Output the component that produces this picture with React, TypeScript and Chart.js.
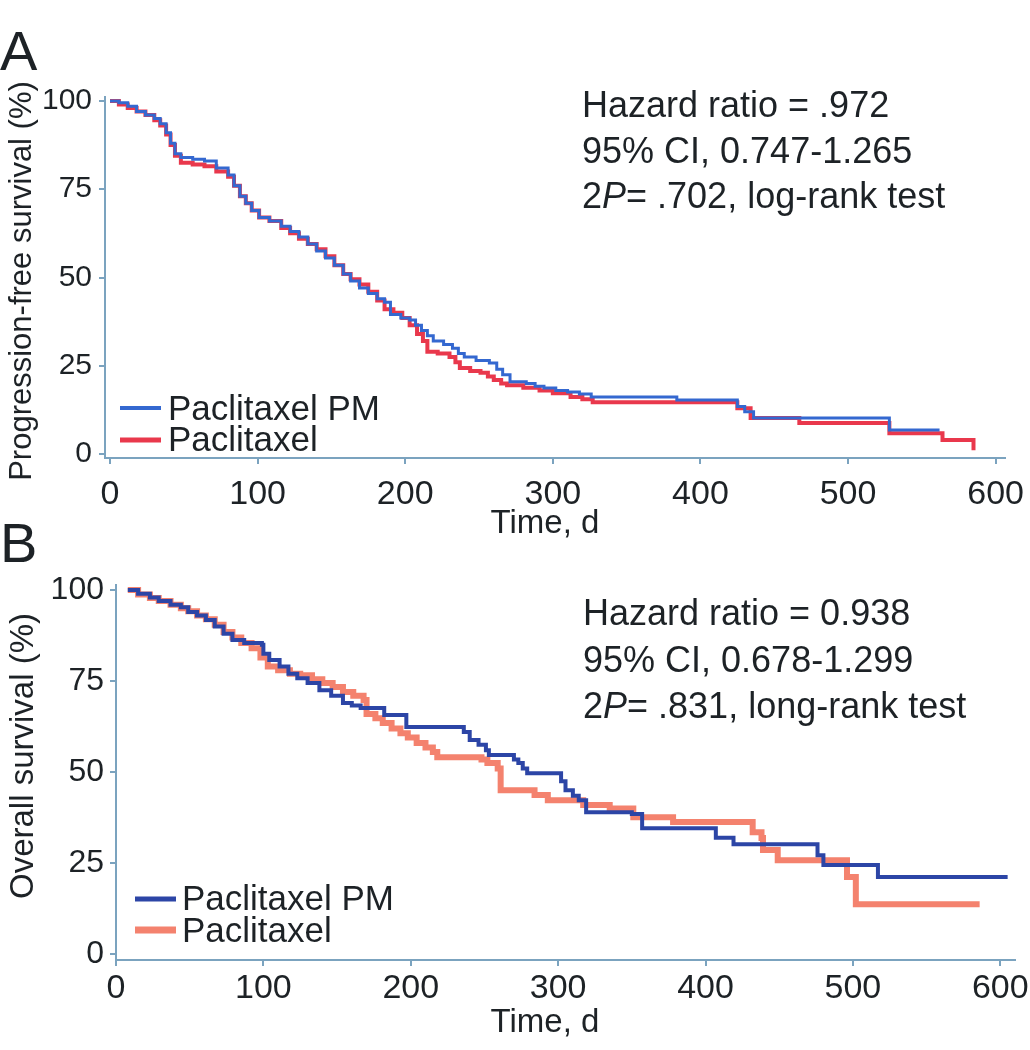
import React, { useEffect, useRef } from 'react';
import { Chart, registerables } from 'chart.js';

Chart.register(...registerables);

const FONT = "'Liberation Sans', Arial, Helvetica, sans-serif";
const TEXT = '#1d2226';
const AXIS = '#7ba3bf';

// ---------- tick values ----------
const xTickValues = [0, 100, 200, 300, 400, 500, 600];
const yTickValues = [0, 25, 50, 75, 100];

// ---------- series names ----------
const seriesNames = ['Paclitaxel PM', 'Paclitaxel'];

// ---------- Panel A: progression-free survival ----------
const pfsPmTime = [0, 6, 12, 18, 24, 30, 34, 38, 41, 44, 48, 56, 64, 72, 80, 84, 88, 92, 96, 101, 108, 116, 122, 128, 134, 140, 146, 152, 158, 163, 169, 175, 181, 186, 190, 197, 203, 207, 211, 215, 219, 226, 232, 236, 240, 248, 257, 262, 266, 271, 282, 288, 294, 302, 310, 318, 326, 384, 425, 430, 436, 528, 562];
const pfsPmSurv = [100, 99.5, 98.5, 97, 96, 95, 93.5, 91, 88, 85, 84, 83.5, 83, 81, 79, 76, 73, 71, 69, 67, 66, 64.5, 63, 61.5, 59.5, 57.5, 55.5, 53.5, 51, 49, 47, 45.5, 44, 43, 39.5, 38.5, 38, 36.5, 35, 33.5, 32, 31, 30, 28.5, 27.5, 26.5, 25.8, 24, 22.5, 20.5, 20, 19.2, 18.7, 18, 17.6, 17, 16.2, 15.3, 13.5, 12, 10.2, 6.8, 6.8];
const pfsPacTime = [0, 6, 12, 18, 24, 30, 34, 38, 41, 44, 48, 56, 64, 72, 80, 84, 88, 92, 96, 101, 108, 116, 122, 128, 134, 140, 146, 152, 158, 163, 169, 175, 181, 186, 192, 198, 203, 208, 212, 215, 222, 230, 234, 237, 244, 251, 256, 260, 265, 269, 280, 291, 300, 312, 320, 327, 425, 434, 467, 528, 564, 585];
const pfsPacSurv = [100, 99, 98, 97, 96, 94.5, 93, 90.5, 87.5, 84.5, 82.5, 82, 81.5, 80, 78.5, 76, 73, 71, 69, 67, 66, 64, 62.5, 61, 59.5, 58, 56, 53.5, 51, 49.5, 48, 46, 43.5, 41, 40, 38.5, 36.5, 34, 32, 29, 28.5, 27.5, 26, 24.4, 23.5, 23, 22, 21, 20, 19.5, 18.8, 18, 17.2, 16.2, 15.5, 14.7, 13, 10.2, 8.8, 5.9, 4, 1.1];
const pfsStatLines = ['Hazard ratio = .972', '95% CI, 0.747-1.265'];
const pfsTestLine = ['2', 'P', '= .702, log-rank test'];

// ---------- Panel B: overall survival ----------
const osPmTime = [8, 15, 23, 29, 37, 44, 49, 55, 61, 67, 73, 79, 87, 99, 100, 104, 111, 117, 123, 130, 138, 146, 154, 160, 166, 182, 197, 236, 240, 246, 251, 253, 270, 273, 276, 279, 302, 305, 310, 314, 319, 350, 357, 407, 419, 476, 480, 517, 605];
const osPmSurv = [100, 99, 98, 97, 96, 95.3, 94, 93, 91.8, 90, 88, 86.3, 85.5, 85, 82.5, 80.8, 79, 77, 75.8, 74.5, 72.5, 71, 69, 68.3, 67.6, 65.7, 62.4, 61, 58.8, 57.5, 56, 54.7, 53.5, 52.5, 51, 49.7, 47.5, 45, 43.5, 42.3, 39, 38.5, 34.6, 32, 30.2, 27.2, 24.5, 21.2, 21.2];
const osPacTime = [8, 15, 23, 29, 37, 44, 49, 55, 61, 67, 73, 79, 85, 92, 98, 103, 110, 118, 125, 133, 140, 147, 154, 161, 168, 170, 176, 181, 187, 193, 198, 204, 210, 215, 218, 248, 252, 259, 261, 284, 293, 317, 335, 351, 378, 432, 438, 439, 449, 496, 502, 586];
const osPacSurv = [100, 98.8, 97.8, 97, 96, 95, 94.2, 93, 92, 90.5, 88.5, 87, 85.5, 84, 81.5, 79, 78, 77, 76.6, 75.5, 74.5, 73.4, 72, 71, 69.8, 66, 64.8, 63.5, 62, 60.7, 59.5, 58, 56.8, 55.5, 54.1, 53.5, 52.5, 51, 45, 43.7, 42.3, 41, 40, 37.6, 36.3, 33.5, 31.9, 28.6, 25.8, 21.2, 13.7, 13.7];
const osStatLines = ['Hazard ratio = 0.938', '95% CI, 0.678-1.299'];
const osTestLine = ['2', 'P', '= .831, long-rank test'];

const toPoints = (t: number[], s: number[]) => t.map((v, i) => ({ x: v, y: s[i] }));

type PanelCfg = {
  canvasTop: number;
  canvasHeight: number;
  letter: string;
  letterBase: number;
  yTitle: string;
  yTitleX: number;
  yTitleY: number;
  yTitleSize: number;
  xTitleBase: number;
  xMin: number;
  xMax: number;
  yMin: number;
  yMax: number;
  area: { left: number; right: number; top: number; bottom: number };
  xTickPad: number;
  yTickSize: number;
  yTickPad: number;
  pm: { t: number[]; s: number[]; color: string; width: number };
  pac: { t: number[]; s: number[]; color: string; width: number };
  legend: { x1: number; x2: number; textX: number; y1: number; y2: number; b1: number; b2: number };
  stats: { x: number; bases: number[]; lines: string[]; test: string[] };
};

const panelA: PanelCfg = {
  canvasTop: 0,
  canvasHeight: 550,
  letter: 'A',
  letterBase: 70,
  yTitle: 'Progression-free survival (%)',
  yTitleX: 22,
  yTitleY: 281,
  yTitleSize: 31,
  xTitleBase: 533,
  xMin: -3.4,
  xMax: 606,
  yMin: -1.1,
  yMax: 101.1,
  area: { left: 105, right: 1004.5, top: 97, bottom: 458 },
  xTickPad: 10,
  yTickSize: 30,
  yTickPad: 7,
  pm: { t: pfsPmTime, s: pfsPmSurv, color: '#3468d0', width: 3 },
  pac: { t: pfsPacTime, s: pfsPacSurv, color: '#e9384c', width: 4 },
  legend: { x1: 120, x2: 161, textX: 168, y1: 408, y2: 440, b1: 420, b2: 451 },
  stats: { x: 582, bases: [117, 163, 208], lines: pfsStatLines, test: pfsTestLine },
};

const panelB: PanelCfg = {
  canvasTop: 500,
  canvasHeight: 550,
  letter: 'B',
  letterBase: 62,
  yTitle: 'Overall survival (%)',
  yTitleX: 24,
  yTitleY: 256,
  yTitleSize: 33,
  xTitleBase: 532,
  xMin: 0,
  xMax: 610,
  yMin: -1.6,
  yMax: 101.4,
  area: { left: 116, right: 1015, top: 85, bottom: 460 },
  xTickPad: 2,
  yTickSize: 32,
  yTickPad: 6,
  pm: { t: osPmTime, s: osPmSurv, color: '#2c45a6', width: 4 },
  pac: { t: osPacTime, s: osPacSurv, color: '#f4826e', width: 6 },
  legend: { x1: 135, x2: 176, textX: 182, y1: 399, y2: 430, b1: 410, b2: 442 },
  stats: { x: 583, bases: [125, 172, 218], lines: osStatLines, test: osTestLine },
};

function makeTextPlugin(cfg: PanelCfg) {
  return {
    id: 'panelText' + cfg.letter,
    afterDraw(chart: any) {
      const ctx = chart.ctx as CanvasRenderingContext2D;
      ctx.save();
      ctx.fillStyle = TEXT;
      ctx.textBaseline = 'alphabetic';
      // panel letter
      ctx.font = `56px ${FONT}`;
      ctx.textAlign = 'left';
      ctx.fillText(cfg.letter, 0, cfg.letterBase);
      // y title
      ctx.save();
      ctx.translate(cfg.yTitleX, cfg.yTitleY);
      ctx.rotate(-Math.PI / 2);
      ctx.font = `${cfg.yTitleSize}px ${FONT}`;
      ctx.textAlign = 'center';
      ctx.textBaseline = 'middle';
      ctx.fillText(cfg.yTitle, 0, 0);
      ctx.restore();
      // x title
      ctx.font = `33px ${FONT}`;
      ctx.textAlign = 'center';
      ctx.fillText('Time, d', 545, cfg.xTitleBase);
      // stats
      ctx.textAlign = 'left';
      ctx.font = `36px ${FONT}`;
      cfg.stats.lines.forEach((l, i) => ctx.fillText(l, cfg.stats.x, cfg.stats.bases[i]));
      let x = cfg.stats.x;
      const b = cfg.stats.bases[2];
      ctx.fillText(cfg.stats.test[0], x, b);
      x += ctx.measureText(cfg.stats.test[0]).width;
      ctx.font = `italic 36px ${FONT}`;
      ctx.fillText(cfg.stats.test[1], x, b);
      x += ctx.measureText(cfg.stats.test[1]).width;
      ctx.font = `36px ${FONT}`;
      ctx.fillText(cfg.stats.test[2], x, b);
      // legend
      const lg = cfg.legend;
      ctx.lineCap = 'butt';
      ctx.strokeStyle = cfg.pm.color;
      ctx.lineWidth = cfg.pm.width + 1;
      ctx.beginPath();
      ctx.moveTo(lg.x1, lg.y1);
      ctx.lineTo(lg.x2, lg.y1);
      ctx.stroke();
      ctx.strokeStyle = cfg.pac.color;
      ctx.lineWidth = cfg.pac.width + 1;
      ctx.beginPath();
      ctx.moveTo(lg.x1, lg.y2);
      ctx.lineTo(lg.x2, lg.y2);
      ctx.stroke();
      ctx.font = `35px ${FONT}`;
      ctx.fillText(seriesNames[0], lg.textX, lg.b1);
      ctx.fillText(seriesNames[1], lg.textX, lg.b2);
      ctx.restore();
    },
  };
}

function Panel({ cfg }: { cfg: PanelCfg }) {
  const ref = useRef<HTMLCanvasElement | null>(null);
  useEffect(() => {
    if (!ref.current) return;
    const a = cfg.area;
    const chart = new Chart(ref.current, {
      type: 'line',
      data: {
        datasets: [
          {
            label: seriesNames[0],
            data: toPoints(cfg.pm.t, cfg.pm.s),
            borderColor: cfg.pm.color,
            borderWidth: cfg.pm.width,
            stepped: 'before',
            pointRadius: 0,
            fill: false,
          },
          {
            label: seriesNames[1],
            data: toPoints(cfg.pac.t, cfg.pac.s),
            borderColor: cfg.pac.color,
            borderWidth: cfg.pac.width,
            stepped: 'before',
            pointRadius: 0,
            fill: false,
          },
        ],
      },
      options: {
        responsive: false,
        animation: false,
        devicePixelRatio: 1,
        layout: { padding: { top: a.top, right: 1030 - a.right, left: 0, bottom: 0 } },
        plugins: { legend: { display: false }, tooltip: { enabled: false }, title: { display: false } },
        scales: {
          x: {
            type: 'linear',
            min: cfg.xMin,
            max: cfg.xMax,
            afterBuildTicks: (s: any) => {
              s.ticks = xTickValues.map((v) => ({ value: v }));
            },
            afterFit: (s: any) => {
              s.height = cfg.canvasHeight - a.bottom;
              s.paddingLeft = 0;
              s.paddingRight = 0;
            },
            ticks: {
              autoSkip: false,
              maxRotation: 0,
              color: TEXT,
              padding: cfg.xTickPad,
              font: { family: FONT, size: 34 },
              callback: (v: any) => String(v),
            },
            grid: { display: true, drawOnChartArea: false, drawTicks: true, tickLength: 6, color: AXIS, lineWidth: 2 },
            border: { display: true, color: AXIS, width: 2 },
          },
          y: {
            type: 'linear',
            min: cfg.yMin,
            max: cfg.yMax,
            afterBuildTicks: (s: any) => {
              s.ticks = yTickValues.map((v) => ({ value: v }));
            },
            afterFit: (s: any) => {
              s.width = a.left;
              s.paddingTop = 0;
              s.paddingBottom = 0;
            },
            ticks: {
              autoSkip: false,
              color: TEXT,
              padding: cfg.yTickPad,
              font: { family: FONT, size: cfg.yTickSize },
              callback: (v: any) => String(v),
            },
            grid: { display: true, drawOnChartArea: false, drawTicks: true, tickLength: 6, color: AXIS, lineWidth: 2 },
            border: { display: true, color: AXIS, width: 2 },
          },
        },
      } as any,
      plugins: [makeTextPlugin(cfg)],
    });
    return () => chart.destroy();
  }, [cfg]);
  return (
    <canvas
      ref={ref}
      width={1030}
      height={cfg.canvasHeight}
      style={{ position: 'absolute', left: 0, top: cfg.canvasTop, width: 1030, height: cfg.canvasHeight }}
    />
  );
}

export default function App() {
  return (
    <div style={{ position: 'absolute', left: 0, top: 0, width: 1030, height: 1050, background: '#ffffff', overflow: 'hidden' }}>
      <Panel cfg={panelA} />
      <Panel cfg={panelB} />
    </div>
  );
}
